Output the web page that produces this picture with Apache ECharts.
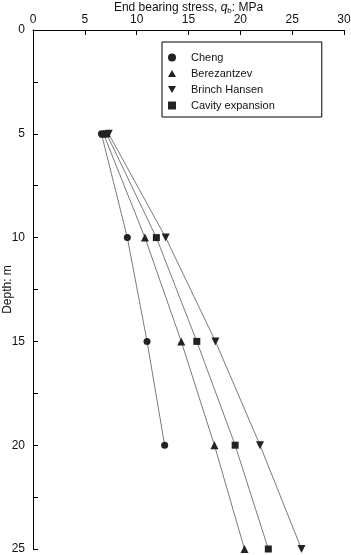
<!DOCTYPE html>
<html>
<head>
<meta charset="utf-8">
<script src="https://cdn.jsdelivr.net/npm/echarts@6/dist/echarts.min.js"></script>
<style>
  html, body { margin: 0; padding: 0; background: #fff; }
  #chart { width: 351px; height: 555px; }
</style>
</head>
<body>
<div id="chart"></div>
<script>
// depth (m) and end bearing stress (MPa)
var depths = [5, 10, 15, 20, 25];
var cheng = [6.6, 9.1, 11.0, 12.7];
var berezantzev = [6.8, 10.8, 14.3, 17.5, 20.4];
var brinchHansen = [7.3, 12.8, 17.6, 21.9, 25.9];
var cavityExpansion = [7.1, 11.9, 15.8, 19.5, 22.7];

var downTri = 'path://M0,0 L10,0 L5,9 Z';
var upTri = 'path://M5,0 L10,9 L0,9 Z';

function pairs(vals) {
    return vals.map(function (v, i) { return [v, depths[i]]; });
}

function makeSeries(name, vals, symbol, size) {
    return {
        name: name,
        type: 'line',
        data: pairs(vals),
        symbol: symbol,
        symbolSize: size,
        showAllSymbol: true,
        clip: false,
        lineStyle: { color: '#7a7a7a', width: 1 },
        itemStyle: { color: '#222', borderWidth: 0 },
        emphasis: { disabled: true },
        z: 3
    };
}

var chart = echarts.init(document.getElementById('chart'));
var font = 'Liberation Sans, Arial, sans-serif';

chart.setOption({
    animation: false,
    textStyle: { fontFamily: font },
    grid: { left: 33, right: 7, top: 30, bottom: 6, containLabel: false, outerBoundsMode: 'none' },
    legend: {
        orient: 'vertical',
        left: 162,
        top: 42,
        borderColor: '#000',
        borderWidth: 1,
        borderRadius: 0,
        padding: [10, 47, 6, 6],
        itemGap: 5,
        itemWidth: 8,
        itemHeight: 8,
        textStyle: { fontSize: 11, color: '#111', fontFamily: font, padding: [0, 0, 0, 10] },
        data: [
            { name: 'Cheng', icon: 'circle' },
            { name: 'Berezantzev', icon: upTri },
            { name: 'Brinch Hansen', icon: downTri },
            { name: 'Cavity expansion', icon: 'rect' }
        ]
    },
    xAxis: {
        type: 'value',
        position: 'top',
        min: 0,
        max: 30,
        interval: 5,
        name: '{n|End bearing stress, }{i|q}{s|b}{n|: MPa}',
        nameLocation: 'middle',
        nameGap: 15,
        nameMoveOverlap: false,
        nameTextStyle: {
            rich: {
                n: { fontSize: 12, color: '#111', fontFamily: font },
                i: { fontSize: 12, color: '#111', fontStyle: 'italic', fontFamily: font },
                s: { fontSize: 8, color: '#111', fontFamily: font, verticalAlign: 'bottom', padding: [6, 0, 0, 0] }
            }
        },
        axisLine: { show: true, lineStyle: { color: '#000', width: 1 } },
        axisTick: { show: true, inside: true, length: 5, lineStyle: { color: '#000' } },
        axisLabel: { fontSize: 12, color: '#111', margin: 4, fontFamily: font },
        splitLine: { show: false }
    },
    yAxis: {
        type: 'value',
        inverse: true,
        min: 0,
        max: 25,
        interval: 5,
        name: 'Depth: m',
        nameLocation: 'middle',
        nameGap: 19,
        nameMoveOverlap: false,
        nameTextStyle: { fontSize: 12, color: '#111', fontFamily: font },
        axisLine: { show: true, lineStyle: { color: '#000', width: 1 } },
        axisTick: { show: true, inside: true, length: 5, lineStyle: { color: '#000' } },
        minorTick: { show: true, splitNumber: 2, length: 5, lineStyle: { color: '#000' } },
        axisLabel: { fontSize: 12, color: '#111', margin: 8, fontFamily: font },
        splitLine: { show: false }
    },
    series: [
        makeSeries('Cheng', cheng, 'circle', 7),
        makeSeries('Berezantzev', berezantzev, upTri, 8),
        makeSeries('Brinch Hansen', brinchHansen, downTri, 8),
        makeSeries('Cavity expansion', cavityExpansion, 'rect', 7)
    ]
});
</script>
</body>
</html>
